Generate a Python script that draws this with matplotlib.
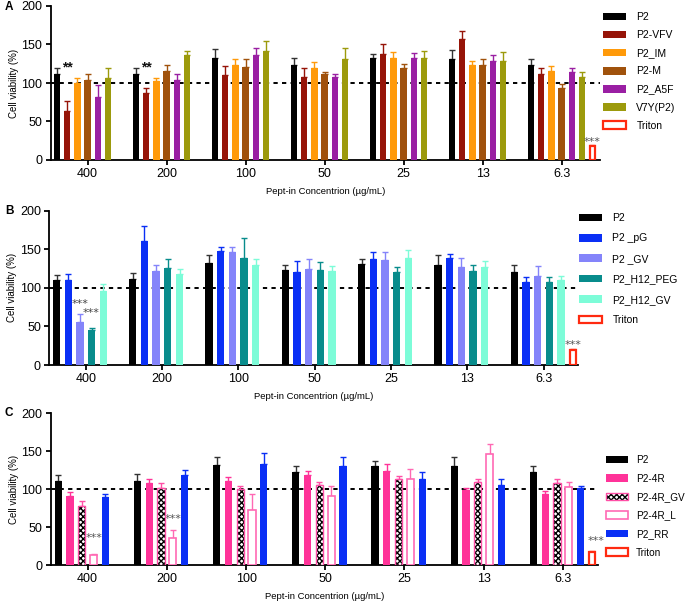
import numpy as np
import matplotlib
matplotlib.use("Agg")
import matplotlib.pyplot as plt
from matplotlib.patches import Patch

plt.rcParams["font.family"] = ["Liberation Sans", "DejaVu Sans"]

# concentrations (x groups)
conc = ["400", "200", "100", "50", "25", "13", "6.3"]

# ---- panel A ----
a_names = ["P2", "P2-VFV", "P2_IM", "P2-M", "P2_A5F", "V7Y(P2)"]
a_p2 = [112, 112, 133, 123, 132, 131, 123]
a_p2_err = [7, 8, 11, 9, 6, 12, 8]
a_vfv = [64, 87, 110, 108, 138, 157, 112]
a_vfv_err = [13, 7, 12, 11, 12, 10, 8]
a_im = [100, 102, 123, 119, 132, 123, 116]
a_im_err = [7, 4, 8, 8, 8, 6, 6]
a_m = [104, 116, 121, 112, 119, 124, 93]
a_m_err = [8, 8, 10, 2, 6, 7, 6]
a_a5f = [82, 104, 137, 108, 133, 129, 114]
a_a5f_err = [16, 8, 9, 4, 6, 7, 5]
a_v7y = [107, 136, 142, 131, 133, 129, 108]
a_v7y_err = [13, 6, 13, 14, 8, 11, 6]
a_triton, a_triton_err = 18, 2

# ---- panel B ----
b_names = ["P2", "P2 _pG", "P2 _GV", "P2_H12_PEG", "P2_H12_GV"]
b_p2 = [110, 111, 132, 123, 131, 129, 121]
b_p2_err = [7, 8, 10, 7, 6, 13, 9]
b_pg = [110, 161, 148, 120, 137, 139, 107]
b_pg_err = [8, 19, 5, 15, 9, 5, 7]
b_gv = [56, 122, 147, 125, 136, 127, 116]
b_gv_err = [10, 8, 6, 12, 11, 12, 12]
b_peg = [45, 126, 139, 123, 120, 122, 108]
b_peg_err = [3, 11, 26, 11, 7, 8, 6]
b_h12gv = [96, 118, 129, 122, 139, 127, 110]
b_h12gv_err = [9, 6, 8, 6, 10, 8, 6]
b_triton, b_triton_err = 19, 1.5

# ---- panel C ----
c_names = ["P2", "P2-4R", "P2-4R_GV", "P2-4R_L", "P2_RR"]
c_p2 = [111, 111, 132, 123, 131, 130, 122]
c_p2_err = [7, 9, 10, 8, 6, 12, 8]
c_4r = [91, 108, 111, 119, 124, 99, 93]
c_4r_err = [5, 6, 5, 5, 9, 3, 4]
c_4rgv = [78, 102, 100, 106, 113, 109, 108]
c_4rgv_err = [6, 6, 4, 4, 4, 4, 6]
c_4rl = [13, 36, 72, 91, 114, 146, 103]
c_4rl_err = [1, 10, 21, 13, 12, 13, 6]
c_rr = [90, 118, 133, 131, 114, 106, 101]
c_rr_err = [4, 7, 15, 12, 8, 7, 3]
c_triton, c_triton_err = 17, 1

# significance marks: (group index, series slot, y, text, colour)
a_marks = [(0, 1, 120, "**", "#111111"), (1, 1, 120, "**", "#111111"), (6, 6, 24, "***", "#555555")]
b_marks = [(0, 2, 79, "***", "#444444"), (0, 3, 68, "***", "#444444"), (6, 5, 26, "***", "#555555")]
c_marks = [(0, 3, 35, "***", "#555555"), (1, 3, 60, "***", "#555555"), (6, 5.3, 32, "***", "#555555")]

TRITON = dict(fc="white", ec="#ff2a10", lw=1.6)

a_styles = [dict(fc="black"), dict(fc="#961408"), dict(fc="#ff9a0a"),
            dict(fc="#a0520c"), dict(fc="#9a1fa3"), dict(fc="#9c9a0c")]
b_styles = [dict(fc="black"), dict(fc="#0a2ff5"), dict(fc="#8484fa"),
            dict(fc="#088c8c"), dict(fc="#7dfcd8")]
c_styles = [dict(fc="black"), dict(fc="#ff3399"),
            dict(fc="white", ec="#ff4fa6", hatch="xxxxxx", lw=1.0),
            dict(fc="white", ec="#ff69b4", lw=1.2), dict(fc="#0a2ff5")]


def draw_bar(ax, x, h, bw, st):
    if "hatch" in st:
        ax.bar(x, h, bw, color="white", edgecolor="black", hatch=st["hatch"], lw=0, zorder=3)
        ax.bar(x, h, bw, fill=False, edgecolor=st["ec"], lw=st["lw"], zorder=4)
    elif "ec" in st:
        ax.bar(x, h, bw, color=st["fc"], edgecolor=st["ec"], lw=st["lw"], zorder=3)
    else:
        ax.bar(x, h, bw, color=st["fc"], lw=0, zorder=3)


def err_color(st):
    return st.get("ec", st["fc"]) if st["fc"] != "black" else "#333333"


def draw_panel(ax, data, styles, triton, marks, slot, bw, xlim):
    x = np.arange(len(conc))
    n = len(data) + 1
    offs = [(k - (n - 1) / 2) * slot for k in range(n)]
    for k, ((vals, errs), st) in enumerate(zip(data, styles)):
        xs = x + offs[k]
        draw_bar(ax, xs, vals, bw, st)
        ax.errorbar(xs, vals, yerr=[np.zeros(len(vals)), errs], fmt="none",
                    ecolor=err_color(st), elinewidth=1.0, capsize=2.2, capthick=1.0, zorder=2)
    # triton control only in the last group
    tx = x[-1] + offs[-1]
    ax.bar(tx, triton[0], bw * 0.8, color=TRITON["fc"], edgecolor=TRITON["ec"], lw=TRITON["lw"], zorder=3)
    ax.errorbar([tx], [triton[0]], yerr=[[0], [triton[1]]], fmt="none",
                ecolor=TRITON["ec"], elinewidth=1.0, capsize=2, zorder=2)
    for g, s, y, txt, col in marks:
        bold = txt == "**"
        xm = x[g] + (s - (n - 1) / 2) * slot
        ax.text(xm, y, txt, ha="center", va="center",
                fontsize=10 if bold else 8, color=col,
                fontweight="bold" if bold else "normal",
                family="Liberation Sans" if bold else "DejaVu Sans")
    ax.axhline(100, color="black", ls=(0, (2.2, 2.2)), lw=1.4, zorder=1)
    ax.set_xlim(*xlim)
    ax.set_ylim(0, 200)
    ax.set_xticks(x)
    ax.set_xticklabels(conc)
    ax.set_yticks([0, 50, 100, 150, 200])
    for side in ("top", "right"):
        ax.spines[side].set_visible(False)
    for side in ("left", "bottom"):
        ax.spines[side].set_linewidth(1.3)
    ax.tick_params(axis="both", width=1.3, length=3.5, labelsize=9, pad=2.5)
    ax.set_ylabel("Cell viability (%)", fontsize=7, labelpad=2)
    ax.set_xlabel("Pept-in Concentrion (µg/mL)", fontsize=6.8, labelpad=5)


def legend_handles(names, styles):
    hs = []
    for name, st in zip(names, styles):
        if "hatch" in st:
            h = (Patch(fc="white", ec="black", hatch=st["hatch"], lw=0),
                 Patch(fill=False, ec=st["ec"], lw=st["lw"]))
        elif "ec" in st:
            h = Patch(fc=st["fc"], ec=st["ec"], lw=st["lw"])
        else:
            h = Patch(fc=st["fc"], lw=0)
        hs.append(h)
    hs.append(Patch(fc=TRITON["fc"], ec=TRITON["ec"], lw=TRITON["lw"]))
    return hs, list(names) + ["Triton"]


fig = plt.figure(figsize=(6.88, 6.07), dpi=100)
W, H = 688, 607


def px_axes(left, top, right, bottom):
    return fig.add_axes([left / W, 1 - bottom / H, (right - left) / W, (bottom - top) / H])


axA = px_axes(50.7, 6, 600, 160)
axB = px_axes(49.3, 210.7, 578.3, 365)
axC = px_axes(50.7, 413.3, 598.3, 565)

draw_panel(axA,
           [(a_p2, a_p2_err), (a_vfv, a_vfv_err), (a_im, a_im_err),
            (a_m, a_m_err), (a_a5f, a_a5f_err), (a_v7y, a_v7y_err)],
           a_styles, (a_triton, a_triton_err), a_marks, 0.130, 0.082, (-0.468, 6.485))
draw_panel(axB,
           [(b_p2, b_p2_err), (b_pg, b_pg_err), (b_gv, b_gv_err),
            (b_peg, b_peg_err), (b_h12gv, b_h12gv_err)],
           b_styles, (b_triton, b_triton_err), b_marks, 0.153, 0.096, (-0.477, 6.456))
draw_panel(axC,
           [(c_p2, c_p2_err), (c_4r, c_4r_err), (c_4rgv, c_4rgv_err),
            (c_4rl, c_4rl_err), (c_rr, c_rr_err)],
           c_styles, (c_triton, c_triton_err), c_marks, 0.149, 0.092, (-0.467, 6.447))

leg_kw = dict(loc="upper left", frameon=False, handlelength=2.2,
              handleheight=0.75, borderpad=0, borderaxespad=0)
for ax, names, styles, (lx, ly), spacing, fs, tpad in [
        (axA, a_names, a_styles, (603, 12), 0.78, 7.5, 1.0),
        (axB, b_names, b_styles, (579, 213), 1.0, 7.5, 1.0),
        (axC, c_names, c_styles, (606, 455), 0.85, 7.2, 0.8)]:
    hs, labels = legend_handles(names, styles)
    fig.legend(hs, labels, bbox_to_anchor=(lx / W, 1 - ly / H), labelspacing=spacing,
               fontsize=fs, handletextpad=tpad, **leg_kw)

for lab, ypx in [("A", 7), ("B", 211), ("C", 413)]:
    fig.text(9 / W, 1 - ypx / H, lab, fontsize=8.5, fontweight="bold", ha="center", va="center")

fig.savefig("out.png", dpi=100)
